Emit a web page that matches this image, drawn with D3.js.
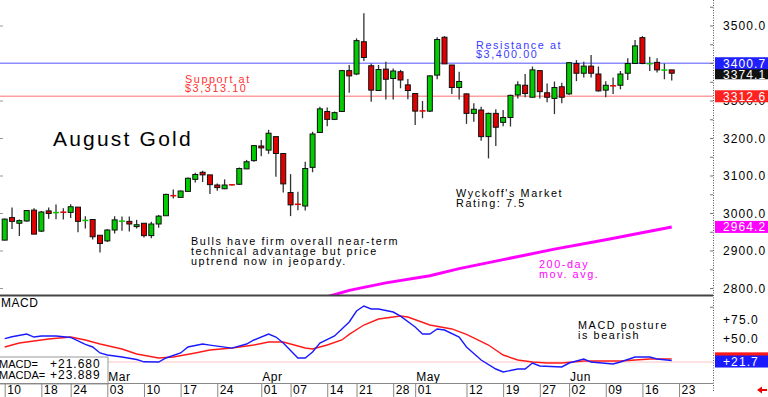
<!DOCTYPE html>
<html><head><meta charset="utf-8">
<script src="https://cdn.jsdelivr.net/npm/d3@7"></script>
<style>
html,body{margin:0;padding:0;background:#fff;overflow:hidden}
svg{display:block}
text{font-family:"Liberation Sans",Arial,sans-serif}
</style></head><body>
<svg id="c" width="768" height="397"></svg>
<script>
// ---------- DATA ----------
const dates = ["02-10","02-11","02-12","02-13","02-14","02-18","02-19","02-20","02-21","02-24","02-25","02-26","02-27","02-28",
"03-03","03-04","03-05","03-06","03-07","03-10","03-11","03-12","03-13","03-14","03-17","03-18","03-19","03-20","03-21","03-24","03-25","03-26","03-27","03-28","03-31",
"04-01","04-02","04-03","04-04","04-07","04-08","04-09","04-10","04-11","04-14","04-15","04-16","04-17","04-21","04-22","04-23","04-24","04-25","04-28","04-29","04-30",
"05-01","05-02","05-05","05-06","05-07","05-08","05-09","05-12","05-13","05-14","05-15","05-16","05-19","05-20","05-21","05-22","05-23","05-27","05-28","05-29","05-30",
"06-02","06-03","06-04","06-05","06-06","06-09","06-10","06-11","06-12","06-13","06-16","06-17","06-18","06-19","06-20"];
const open  = [2929,2989,2974,2980,3009,2953,3007,3002,3004,3003,3017,2981,2984,2942,2927,2956,2979,2979,2965,2974,2941,2972,2994,3048,3043,3059,3091,3110,3103,3076,3066,3077,3078,3119,3141,3180,3169,3205,3160,3056,3025,3020,3123,3216,3272,3251,3272,3381,3372,3458,3394,3328,3385,3360,3378,3343,3320,3274,3273,3369,3470,3396,3336,3319,3267,3276,3205,3267,3243,3256,3316,3342,3310,3381,3322,3307,3338,3319,3400,3374,3393,3372,3329,3341,3342,3374,3400,3469,3399,3403,3382,3383];
const high  = [2987,3016,2984,3009,3014,3007,3016,3024,3014,3025,3017,2993,2985,2942,2958,2993,2992,2992,2983,2974,2978,2996,3053,3064,3061,3096,3109,3114,3103,3080,3091,3079,3123,3143,3183,3196,3223,3205,3160,3105,3058,3138,3218,3285,3283,3272,3383,3396,3467,3534,3400,3396,3405,3387,3383,3359,3320,3300,3369,3470,3473,3396,3378,3320,3294,3285,3269,3278,3276,3317,3353,3372,3392,3383,3347,3352,3349,3404,3409,3405,3423,3392,3353,3363,3380,3414,3463,3473,3418,3414,3400,3383];
const low   = [2929,2959,2940,2978,2945,2951,2986,2985,2984,2988,2950,2960,2931,2896,2924,2947,2954,2952,2960,2936,2934,2962,2994,3040,3043,3058,3083,3084,3052,3061,3065,3075,3076,3119,3138,3153,3159,3098,3056,2993,3009,3008,3110,3216,3233,3249,3272,3322,3369,3407,3298,3328,3304,3304,3334,3305,3236,3254,3271,3358,3399,3319,3304,3239,3245,3194,3147,3180,3233,3232,3307,3310,3310,3307,3297,3265,3294,3316,3353,3363,3363,3325,3310,3319,3331,3356,3399,3398,3380,3376,3358,3355];
const close = [2985,2979,2981,3008,2945,3004,3000,3003,3003,3018,2979,2982,2938,2920,2956,2983,2980,2972,2970,2941,2972,2993,3051,3047,3060,3094,3104,3103,3077,3069,3076,3076,3120,3138,3181,3175,3214,3160,3079,3023,3024,3120,3212,3279,3251,3269,3381,3367,3461,3416,3329,3384,3358,3380,3356,3328,3273,3273,3367,3464,3399,3336,3352,3267,3278,3205,3267,3230,3256,3315,3343,3320,3383,3325,3310,3336,3310,3402,3374,3393,3374,3327,3342,3340,3372,3400,3447,3400,3400,3383,3383,3374.1];

const ma200Idx = [44,47,52,58,62,68,75,82,91];
const ma200Val = [2778,2795,2815,2834,2853,2877,2905,2930,2964.2];

const macdIdx = [0,1,3,4,5,7,9,11,12,13,14,16,18,19,21,22,24,25,27,28,31,33,34,36,37,38,40,41,42,43,45,47,48,49,50,51,53,54,56,57,58,59,60,62,63,65,67,68,70,71,72,73,76,77,79,80,83,84,86,88,89,91];
const macdVal = [50.5,53,56.6,52.6,54,54,52,43,39.5,31.6,29,26.3,23,20,19.7,25,31.6,39.5,43.4,42,38,43.4,48.7,56.6,52.6,44.7,25,25,32.9,44.7,54,72.4,86.8,93.4,89.5,89.5,85.5,80,65.8,56.6,56.6,63.2,61.8,52.6,39.5,22.4,10.5,6.6,10.5,10.5,18.4,14.5,13.2,18.4,23.7,19.7,17.1,19.7,26.3,26.3,23.7,21.68];
const sigIdx = [0,2,4,6,9,11,13,16,18,21,23,26,28,31,34,36,38,39,41,42,44,46,47,49,51,53,54,55,58,61,63,66,68,70,72,74,76,79,82,84,86,88,91];
const sigVal = [39.5,44.7,47.4,50,52.6,48.7,43.4,36.8,30.3,25,26.3,31.6,35.5,38.2,42.1,46,46,43.4,38.2,36.8,42.1,48.7,56,68.4,76.3,78.9,80.3,78.9,68.4,63.2,56,42.1,28.9,22.4,19.7,18.4,18.4,21,21,21,22.4,23.7,23.889];

const priceTicks = [2800,2900,3000,3100,3200,3300,3400,3500];
const macdTicks = [50,75];
const tickDates = ["02-10","02-18","02-24","03-03","03-10","03-17","03-24","04-01","04-07","04-14","04-21","04-28","05-01","05-12","05-19","05-27","06-02","06-09","06-16","06-23"];
const monthStarts = ["03-03","04-01","05-01","06-02"];
const monthNames = ["Mar","Apr","May","Jun"];

const resistance = 3400.7, support = 3312.6, lastClose = 3374.1, lastMA = 2964.2;
const lastMACD = 21.68, lastMACDA = 23.889;

// ---------- LAYOUT ----------
const AX = 713, PTOP = 0, PBOT = 295, MTOP = 296, MBOT = 383;
const svg = d3.select("#c");
const x = d3.scaleLinear().domain([0, 91]).range([4.7, 4.7 + 7.33 * 91]);
const y = d3.scaleLinear().domain([2800, 3500]).range([288.5, 26]);
const m = d3.scaleLinear().domain([50, 75]).range([339, 320]);
const idxOf = d => { const k = dates.indexOf(d); return k < 0 ? dates.length : k; };

const defs = svg.append("defs");
defs.append("clipPath").attr("id","cp").append("rect").attr("x",0).attr("y",PTOP).attr("width",AX).attr("height",PBOT-PTOP);
defs.append("clipPath").attr("id","cm").append("rect").attr("x",0).attr("y",MTOP).attr("width",AX).attr("height",MBOT-MTOP);

// left small ticks
svg.append("g").selectAll("line").data(priceTicks).join("line")
  .attr("x1",0).attr("x2",3).attr("y1",d=>y(d)).attr("y2",d=>y(d)).attr("stroke","#999");

// resistance / support
svg.append("line").attr("x1",0).attr("x2",AX).attr("y1",y(resistance)).attr("y2",y(resistance))
  .attr("stroke","#8c8cff").attr("stroke-width",1.5);
svg.append("line").attr("x1",0).attr("x2",AX).attr("y1",y(support)).attr("y2",y(support))
  .attr("stroke","#ff9e9e").attr("stroke-width",1.5);

// 200-day MA
svg.append("path").attr("clip-path","url(#cp)")
  .datum(ma200Idx.map((d,i)=>[d, ma200Val[i]]))
  .attr("d", d3.line().x(d=>x(d[0])).y(d=>y(d[1])))
  .attr("fill","none").attr("stroke","#ff00ff").attr("stroke-width",3);

// candles
const cg = svg.append("g").attr("clip-path","url(#cp)");
const cd = dates.map((d,i)=>({i, o:open[i], h:high[i], l:low[i], c:close[i]}));
cg.selectAll("line.w").data(cd).join("line").attr("class","w")
  .attr("x1",d=>x(d.i)).attr("x2",d=>x(d.i)).attr("y1",d=>y(d.h)).attr("y2",d=>y(d.l))
  .attr("stroke","#333").attr("stroke-width",1.3);
cg.selectAll("rect.b").data(cd.filter(d=>Math.abs(y(d.o)-y(d.c))>=1.5)).join("rect").attr("class","b")
  .attr("x",d=>x(d.i)-2.5).attr("width",5)
  .attr("y",d=>y(Math.max(d.o,d.c))).attr("height",d=>Math.abs(y(d.o)-y(d.c)))
  .attr("fill",d=>d.c>=d.o?"#00cc00":"#e00000").attr("stroke","#111").attr("stroke-width",1);
cg.selectAll("line.dj").data(cd.filter(d=>Math.abs(y(d.o)-y(d.c))<1.5)).join("line").attr("class","dj")
  .attr("x1",d=>x(d.i)-3).attr("x2",d=>x(d.i)+3).attr("y1",d=>y((d.o+d.c)/2)).attr("y2",d=>y((d.o+d.c)/2))
  .attr("stroke",d=>d.c>=d.o?"#00cc00":"#e00000").attr("stroke-width",1.5);

// annotations
function label(lines, x0, y0, lh, color, size, ls){
  const t = svg.append("text").attr("x",x0).attr("y",y0).attr("fill",color)
    .style("font-size",size+"px").style("letter-spacing",ls+"px");
  lines.forEach((s,k)=>t.append("tspan").attr("x",x0).attr("y",y0+k*lh).text(s));
}
label(["Resistance at","$3,400.00"], 476, 48.5, 9.8, "#3a3aff", 10.8, 1.6);
label(["Support at","$3,313.10"], 185, 82.5, 9.8, "#ff3030", 10.8, 1.6);
label(["August Gold"], 53, 146, 0, "#000", 21, 2.2);
label(["Wyckoff's Market","Rating: 7.5"], 456, 197, 10, "#000", 10.8, 1.6);
label(["Bulls have firm overall near-term","technical advantage but price","uptrend now in jeopardy."], 191, 245, 10, "#000", 10.8, 1.6);
label(["200-day","mov. avg."], 539, 268, 10, "#ff00ff", 10.8, 1.6);
label(["MACD posture","is bearish"], 578, 329, 10, "#000", 10.8, 1.6);

// panel separator
svg.append("line").attr("x1",0).attr("x2",AX).attr("y1",295.5).attr("y2",295.5).attr("stroke","#444").attr("stroke-width",2);

// MACD panel
svg.append("line").attr("x1",0).attr("x2",AX).attr("y1",m(lastMACD)+1.5).attr("y2",m(lastMACD)+1.5)
  .attr("stroke","#ffc4c4").attr("stroke-width",1);
const mg = svg.append("g").attr("clip-path","url(#cm)");
mg.append("path").datum(sigIdx.map((d,i)=>[d,sigVal[i]]))
  .attr("d", d3.line().x(d=>x(d[0])).y(d=>m(d[1])))
  .attr("fill","none").attr("stroke","#ff1a1a").attr("stroke-width",1.4);
mg.append("path").datum(macdIdx.map((d,i)=>[d,macdVal[i]]))
  .attr("d", d3.line().x(d=>x(d[0])).y(d=>m(d[1])))
  .attr("fill","none").attr("stroke","#1a1aff").attr("stroke-width",1.4);
svg.append("text").attr("x",1).attr("y",307).style("font-size","12px").style("letter-spacing","0.5px").text("MACD");

// month labels
svg.append("g").selectAll("text").data(monthStarts).join("text")
  .attr("x",d=>x(idxOf(d))+1).attr("y",381).style("font-size","12px").style("letter-spacing","0.5px")
  .text((d,i)=>monthNames[i]);

// MACD value box
svg.append("rect").attr("x",-1).attr("y",357).attr("width",109).attr("height",27)
  .attr("fill","#fff").attr("stroke","#999");
svg.append("text").attr("x",-1).attr("y",368).style("font-size","11px").text("MACD=");
svg.append("text").attr("x",-1).attr("y",379).style("font-size","11px").text("MACDA=");
svg.append("text").attr("x",50).attr("y",368).style("font-size","12px").style("letter-spacing","1px").text("+" + lastMACD.toFixed(3));
svg.append("text").attr("x",50).attr("y",379).style("font-size","12px").style("letter-spacing","1px").text("+" + lastMACDA.toFixed(3));

// date axis
svg.append("line").attr("x1",0).attr("x2",AX).attr("y1",383.5).attr("y2",383.5).attr("stroke","#888");
const xa = svg.append("g").attr("transform","translate(0,383)")
  .call(d3.axisBottom(x).tickValues(tickDates.map(idxOf)).tickSize(14).tickFormat((d,i)=>tickDates[i].slice(3)));
xa.select(".domain").remove();
xa.selectAll(".tick line").attr("stroke","#888");
xa.selectAll(".tick text").attr("x",2).attr("y",11).attr("dy",0).attr("text-anchor","start")
  .attr("fill","#000").style("font-size","12px").style("letter-spacing","0.4px")
  .style("font-family","'Liberation Sans',Arial,sans-serif");

// right axis line (dotted)
svg.append("line").attr("x1",AX+0.5).attr("x2",AX+0.5).attr("y1",0).attr("y2",392)
  .attr("stroke","#555").attr("stroke-dasharray","1,1.5");
// minor ticks
svg.append("g").selectAll("line").data(d3.range(2750,3551,50)).join("line")
  .attr("x1",AX-3).attr("x2",AX).attr("y1",d=>y(d)).attr("y2",d=>y(d)).attr("stroke","#777");

const ya = svg.append("g").attr("transform",`translate(${AX},0)`)
  .call(d3.axisRight(y).tickValues(priceTicks).tickSize(0).tickPadding(10).tickFormat(d3.format(".1f")));
ya.select(".domain").remove();
ya.selectAll("text").attr("fill","#000").style("font-size","12px").style("letter-spacing","1.1px")
  .style("font-family","'Liberation Sans',Arial,sans-serif");
const ma = svg.append("g").attr("transform",`translate(${AX},0)`)
  .call(d3.axisRight(m).tickValues(macdTicks).tickSize(0).tickPadding(10).tickFormat(d=>"+"+d.toFixed(1)));
ma.select(".domain").remove();
ma.selectAll("text").attr("fill","#000").style("font-size","12px").style("letter-spacing","1.1px")
  .style("font-family","'Liberation Sans',Arial,sans-serif");

// value boxes
function vbox(yc, fill, txt, h){
  svg.append("rect").attr("x",715).attr("y",yc-h/2).attr("width",53).attr("height",h).attr("fill",fill);
  if (txt) svg.append("text").attr("x",723).attr("y",yc+4.5).attr("fill","#fff")
    .style("font-size","12px").style("letter-spacing","1.1px").text(txt);
}
vbox(y(support), "#ff2020", support.toFixed(1), 12);
vbox(y(lastClose)+0.8, "#111", lastClose.toFixed(1), 10.5);
vbox(y(resistance), "#2020ff", resistance.toFixed(1), 12);
vbox(y(lastMA), "#ff00ff", lastMA.toFixed(1), 12);
vbox(m(lastMACDA)-0.5, "#ff1a1a", "", 12);
vbox(m(lastMACD)+1, "#1a1aff", "+" + lastMACD.toFixed(1), 12);

// red arrow
svg.append("path").attr("d","M757,390 L762,386.5 L762,389 L767,389 L767,391 L762,391 L762,393.5 Z").attr("fill","#ee0000");
</script>
</body></html>
